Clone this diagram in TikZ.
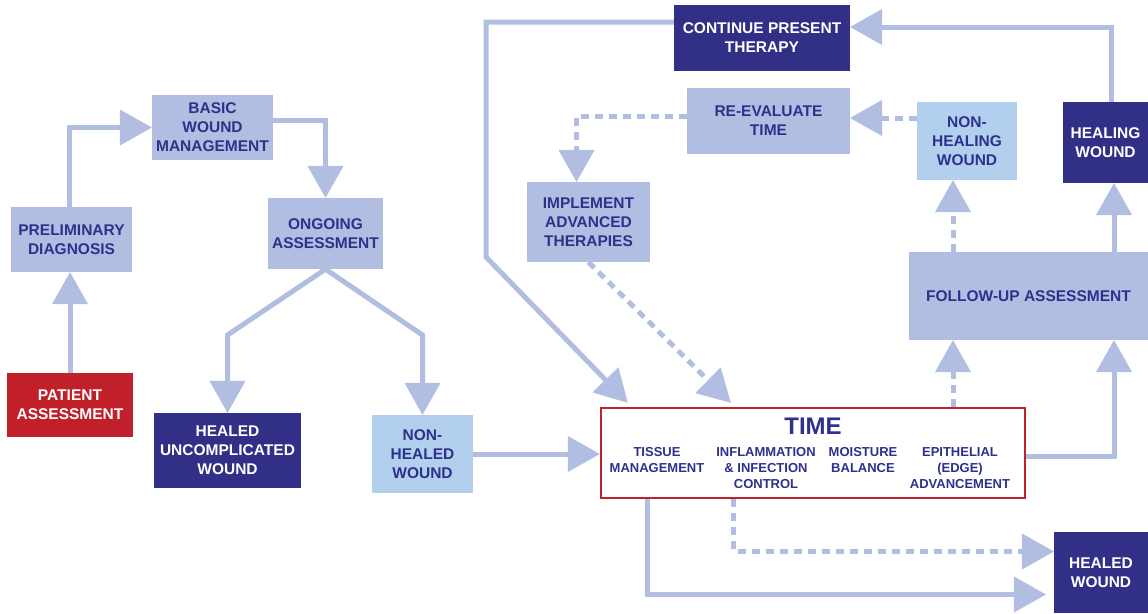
\documentclass[tikz,border=0pt]{standalone}
\usepackage{fontspec}
\setmainfont{Liberation Sans}
\usetikzlibrary{arrows.meta}
\definecolor{lb}{RGB}{177,190,226}
\definecolor{lbb}{RGB}{178,208,238}
\definecolor{navy}{RGB}{49,47,134}
\definecolor{tnavy}{RGB}{46,49,140}
\definecolor{rd}{RGB}{193,32,42}
\begin{document}
\begin{tikzpicture}[x=1pt,y=-1pt,
 bx/.style={inner sep=0pt, align=center, font=\fontsize{15.5}{19}\selectfont\bfseries},
 lbox/.style={bx, fill=lb, text=tnavy},
 pbox/.style={bx, fill=lbb, text=tnavy},
 dbox/.style={bx, fill=navy, text=white},
 rbox/.style={bx, fill=rd, text=white},
 conn/.style={draw=lb, line width=5pt, line join=miter, -{Triangle[length=32pt,width=36pt,line width=0.5pt]}},
 dconn/.style={conn, dash pattern=on 8pt off 6pt},
 sub/.style={inner sep=0pt, align=center, anchor=north, text=tnavy, font=\fontsize{13}{16}\selectfont\bfseries}]
\useasboundingbox (0,0) rectangle (1148,613);

% nodes
\node[lbox, minimum width=121pt, minimum height=65pt] (prelim) at (71.5,239.5) {PRELIMINARY\\DIAGNOSIS};
\node[rbox, minimum width=126pt, minimum height=64pt] (patient) at (70,405) {PATIENT\\ASSESSMENT};
\node[lbox, minimum width=121pt, minimum height=65pt] (basic) at (212.5,127.5) {BASIC\\WOUND\\MANAGEMENT};
\node[lbox, minimum width=115pt, minimum height=71pt] (ongoing) at (325.5,233.5) {ONGOING\\ASSESSMENT};
\node[dbox, minimum width=147pt, minimum height=75pt] (healedunc) at (227.5,450.5) {HEALED\\UNCOMPLICATED\\WOUND};
\node[pbox, minimum width=101pt, minimum height=78pt] (nonhealed) at (422.5,454) {NON-\\HEALED\\WOUND};
\node[draw=rd, line width=2.5pt, fill=white, inner sep=0pt, minimum width=424pt, minimum height=90pt] (time) at (813,453) {};
\node[inner sep=0pt, text=tnavy, font=\fontsize{24}{28}\selectfont\bfseries] (title) at (813,426.5) {TIME};
\node[sub] (s1) at (657,447) {TISSUE\\MANAGEMENT};
\node[sub] (s2) at (766,447) {INFLAMMATION\\\& INFECTION\\CONTROL};
\node[sub] (s3) at (863,447) {MOISTURE\\BALANCE};
\node[sub] (s4) at (960,447) {EPITHELIAL\\(EDGE)\\ADVANCEMENT};
\node[dbox, minimum width=176pt, minimum height=66pt] (continue) at (762,38) {CONTINUE PRESENT\\THERAPY};
\node[lbox, minimum width=163pt, minimum height=66pt] (reeval) at (768.5,121) {RE-EVALUATE\\TIME};
\node[lbox, minimum width=123pt, minimum height=80pt] (implement) at (588.5,222) {IMPLEMENT\\ADVANCED\\THERAPIES};
\node[pbox, minimum width=100pt, minimum height=78pt] (nonhealing) at (967,141) {NON-\\HEALING\\WOUND};
\node[dbox, minimum width=85pt, minimum height=81pt] (healing) at (1105.5,142.5) {HEALING\\WOUND};
\node[lbox, minimum width=239pt, minimum height=88pt] (followup) at (1028.5,296) {FOLLOW-UP ASSESSMENT};
\node[dbox, minimum width=94pt, minimum height=81pt] (healed) at (1101,572.5) {HEALED\\WOUND};

\coordinate (nhb) at ([xshift=-14pt]nonhealing.south);
\coordinate (hgb) at ([xshift=8.5pt]healing.south);
\coordinate (tsa) at ([xshift=48pt]time.south west);
\coordinate (tsb) at ([xshift=134pt]time.south west);

% connectors
\draw[conn] (patient.north) -- (patient.north |- prelim.south);
\draw[conn] ([xshift=-2pt]prelim.north) |- (basic.west);
\draw[conn] ([yshift=7pt]basic.east) -| (ongoing.north);
\draw[conn] (ongoing.south) -- (healedunc.north |- 0,335) -- (healedunc.north);
\draw[conn] (ongoing.south) -- (nonhealed.north |- 0,335) -- (nonhealed.north);
\draw[conn] (nonhealed.east) -- (nonhealed.east -| time.west);
\draw[conn] ([yshift=16pt]continue.west) -| (486,257) -- ([xshift=28pt,yshift=4pt]time.north west);
\draw[dconn] (implement.south) -- ([xshift=131pt,yshift=4pt]time.north west);
\draw[dconn] ([yshift=5pt]reeval.west) -| ([xshift=-12pt]implement.north);
\draw[dconn] ([yshift=23pt]nonhealing.west) -- ([yshift=3pt]reeval.east);
\draw[conn] ([xshift=6pt]healing.north) |- ([yshift=11pt]continue.east);
\draw[dconn] (nhb |- followup.north) -- (nhb);
\draw[conn] (hgb |- followup.north) -- (hgb);
\draw[dconn] (nhb |- time.north) -- (nhb |- followup.south);
\draw[conn] ([yshift=-3pt]time.east) -| (hgb |- followup.south);
\draw[dconn] (tsb) |- ([yshift=21pt]healed.west);
\draw[conn] (tsa) |- ([xshift=-8pt,yshift=-22pt]healed.west);
\end{tikzpicture}
\end{document}
